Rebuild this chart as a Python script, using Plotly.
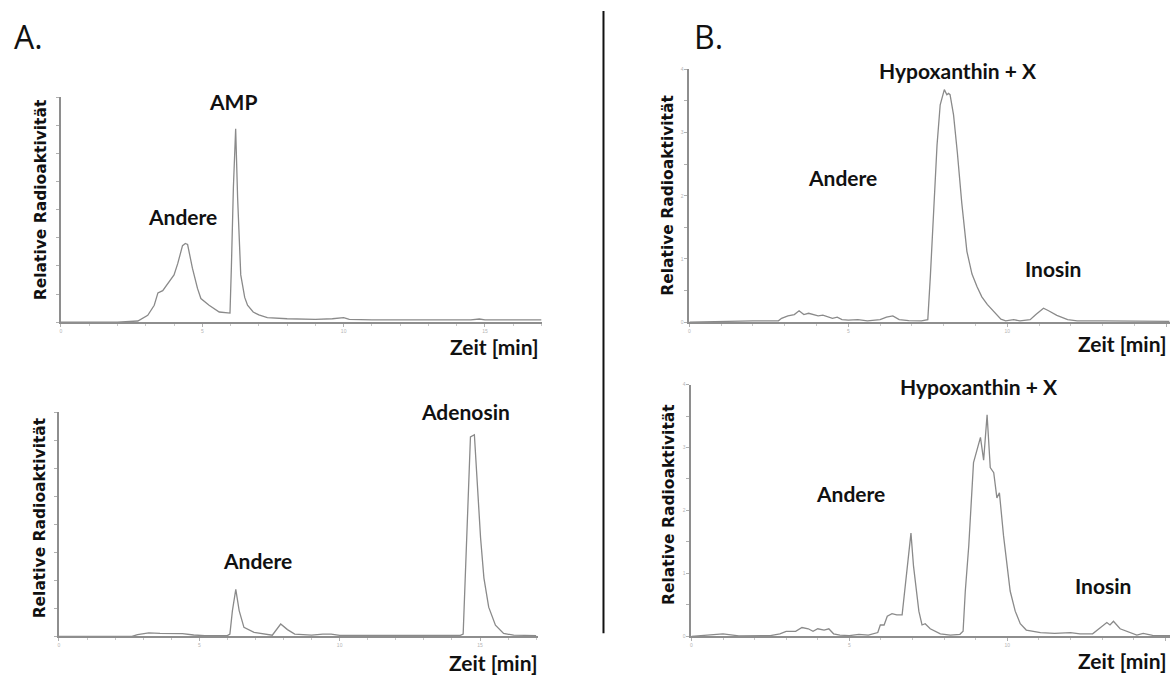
import plotly.graph_objects as go

W, H = 1174, 675

# ---------------- data (time in min, relative radioactivity as fraction of axis height) ----------------
a1_t = [0, 2.0, 2.72, 3.07, 3.3, 3.43, 3.6, 3.78, 4.0, 4.13, 4.3, 4.4, 4.48, 4.65, 4.83, 4.95, 5.24, 5.6, 5.98,
        6.03, 6.1, 6.18, 6.25, 6.36, 6.5, 6.6, 6.8, 7.0, 7.3, 8.0, 9.0, 9.6, 10.0, 10.2, 11.0, 14.5, 14.8, 15.0, 17.0]
a1_v = [0, 0.0, 0.005, 0.03, 0.075, 0.13, 0.14, 0.17, 0.21, 0.26, 0.34, 0.35, 0.345, 0.24, 0.15, 0.105, 0.075, 0.045, 0.04,
        0.25, 0.6, 0.86, 0.55, 0.21, 0.11, 0.075, 0.045, 0.032, 0.02, 0.015, 0.012, 0.015, 0.02, 0.012, 0.01, 0.01, 0.014, 0.01, 0.01]

a2_t = [0, 2.6, 2.8, 3.2, 3.6, 4.0, 4.4, 4.8, 5.2, 6.0, 6.09, 6.18, 6.3, 6.42, 6.59, 6.95, 7.4, 7.6, 7.9, 8.14, 8.4,
        9.0, 9.4, 9.7, 10.0, 14.3, 14.4, 14.48, 14.57, 14.66, 14.8, 14.9, 15.02, 15.14, 15.31, 15.55, 15.84, 16.2, 17.0]
a2_v = [0, 0, 0.008, 0.015, 0.013, 0.014, 0.012, 0.006, 0.003, 0.003, 0.01, 0.115, 0.21, 0.115, 0.04, 0.018, 0.01, 0.005, 0.055, 0.03, 0.01,
        0.005, 0.01, 0.01, 0.004, 0.004, 0.01, 0.29, 0.66, 0.89, 0.9, 0.7, 0.44, 0.26, 0.13, 0.05, 0.013, 0.005, 0.003]

b1_t = [0, 1.0, 2.0, 2.8, 2.9, 3.1, 3.3, 3.45, 3.6, 3.75, 3.9, 4.05, 4.2, 4.35, 4.5, 4.65, 4.8, 5.0, 5.3, 5.6, 6.0, 6.2,
        6.4, 6.6, 6.9, 7.3, 7.5, 7.58, 7.68, 7.79, 7.89, 8.02, 8.1, 8.15, 8.2, 8.31, 8.43, 8.57, 8.73, 8.89, 9.05, 9.2,
        9.37, 9.55, 9.68, 9.8, 9.95, 10.2, 10.4, 10.72, 10.9, 11.14, 11.3, 11.56, 11.9, 12.2, 13.0, 14.0, 15.1]
b1_v = [0, 0.003, 0.005, 0.005, 0.015, 0.025, 0.03, 0.045, 0.03, 0.035, 0.03, 0.025, 0.028, 0.02, 0.015, 0.02, 0.01, 0.008, 0.01, 0.005, 0.01, 0.02,
        0.025, 0.01, 0.006, 0.005, 0.01, 0.18, 0.41, 0.70, 0.86, 0.92, 0.90, 0.905, 0.90, 0.82, 0.67, 0.47, 0.28, 0.19, 0.14, 0.10,
        0.07, 0.045, 0.03, 0.012, 0.005, 0.01, 0.005, 0.01, 0.03, 0.055, 0.045, 0.027, 0.01, 0.005, 0.005, 0.003, 0.003]

b2_t = [0, 0.5, 1.0, 1.5, 2.5, 2.8, 3.0, 3.3, 3.5, 3.7, 3.85, 4.0, 4.2, 4.35, 4.5, 4.7, 5.0, 5.3, 5.6, 5.9, 5.98, 6.1,
        6.2, 6.35, 6.5, 6.67, 6.83, 6.95, 7.03, 7.2, 7.3, 7.4, 7.56, 7.7, 7.88, 8.2, 8.5, 8.6, 8.67, 8.78, 8.93, 9.15,
        9.25, 9.36, 9.46, 9.57, 9.67, 9.75, 9.88, 10.09, 10.25, 10.41, 10.6, 11.05, 11.5, 12.0, 12.3, 12.7, 12.9, 13.15,
        13.25, 13.36, 13.57, 13.89, 14.1, 14.3, 14.6, 15.15]
b2_v = [0, 0.004, 0.01, 0.002, 0.003, 0.01, 0.02, 0.02, 0.035, 0.03, 0.02, 0.03, 0.025, 0.03, 0.01, 0.005, 0.003, 0.008, 0.005, 0.015, 0.045, 0.045,
        0.08, 0.09, 0.085, 0.085, 0.28, 0.41, 0.28, 0.10, 0.045, 0.05, 0.03, 0.02, 0.01, 0.005, 0.008, 0.02, 0.18, 0.36, 0.69, 0.79,
        0.70, 0.88, 0.67, 0.65, 0.55, 0.57, 0.40, 0.18, 0.10, 0.05, 0.025, 0.015, 0.012, 0.015, 0.01, 0.01, 0.03, 0.055,
        0.045, 0.06, 0.03, 0.015, 0.005, 0.012, 0.004, 0.003]

x_tick_vals = [0, 5, 10, 15]
x_tick_text_a = ["0", "5", "10", "15"]
x_tick_text_b = ["0", "5", "10", ""]
y_title = "Relative Radioaktivität"

# ---------------- layout geometry (pixels) ----------------
panels = [
    # (t, v, x0px, x1px, y_top_px, y_bot_px, xmax, xticktext)
    (a1_t, a1_v, 60, 541, 95, 322, 17.0, x_tick_text_a),
    (a2_t, a2_v, 58, 537, 413, 639, 17.05, x_tick_text_a),
    (b1_t, b1_v, 689, 1170, 67, 322, 15.12, x_tick_text_b),
    (b2_t, b2_v, 691, 1170, 385, 639, 15.15, x_tick_text_b),
]

fig = go.Figure()
axis_col = "#8e8e8e"
line_col = "#8a8a8a"

for i, (t, v, x0, x1, yt, yb, xmax, xtt) in enumerate(panels, start=1):
    xa = "x" if i == 1 else f"x{i}"
    ya = "y" if i == 1 else f"y{i}"
    fig.add_trace(go.Scatter(x=t, y=v, mode="lines", line=dict(color=line_col, width=1.3),
                             xaxis=xa, yaxis=ya, showlegend=False, hoverinfo="skip"))
    xkey = "xaxis" if i == 1 else f"xaxis{i}"
    ykey = "yaxis" if i == 1 else f"yaxis{i}"
    fig.layout[xkey] = dict(
        domain=[x0 / W, x1 / W], anchor=ya, range=[0, xmax],
        showgrid=False, zeroline=False, showline=True, linecolor=axis_col, linewidth=2,
        ticks="outside", ticklen=3, tickcolor="#b0b0b0", tickwidth=1,
        tickvals=x_tick_vals, ticktext=xtt,
        tickfont=dict(size=5, color="#b5b5b5", family="Liberation Sans"),
        minor=dict(ticks="outside", ticklen=2, tickcolor="#c8c8c8", dtick=1),
    )
    if i <= 2:
        ytext = [""] * 9
    else:
        ytext = ["0", "", "1", "", "2", "", "3", "", "4"]
    fig.layout[ykey] = dict(
        domain=[1 - yb / H, 1 - yt / H], anchor=xa, range=[0, 1],
        showgrid=False, zeroline=False, showline=True, linecolor=axis_col, linewidth=2,
        ticks="outside", ticklen=3, tickcolor="#b0b0b0", tickwidth=1,
        tickvals=[k / 8 for k in range(9)], ticktext=ytext,
        tickfont=dict(size=5, color="#b5b5b5", family="Liberation Sans"),
    )

# ---------------- annotations ----------------
lab_font = dict(family="Lato", size=21, color="#111111")
ann = []

def add(text, px, py, xanchor="center", font=lab_font, angle=0):
    ann.append(dict(text=text, x=px / W, y=1 - py / H, xref="paper", yref="paper",
                    xanchor=xanchor, yanchor="middle", showarrow=False, font=font, textangle=angle))

add("<b>AMP</b>", 232, 99)
add("<b>Andere</b>", 182, 215)
add("<b>Zeit [min]</b>", 540, 347, xanchor="right")
add("<b>Andere</b>", 257, 562)
add("<b>Adenosin</b>", 465, 412)
add("<b>Zeit [min]</b>", 539, 665, xanchor="right")
add("<b>Hypoxanthin + X</b>", 958, 68)
add("<b>Andere</b>", 842, 176)
add("<b>Inosin</b>", 1053, 268)
add("<b>Zeit [min]</b>", 1169, 344, xanchor="right")
add("<b>Hypoxanthin + X</b>", 979, 387)
add("<b>Andere</b>", 850, 495)
add("<b>Inosin</b>", 1103, 588)
add("<b>Zeit [min]</b>", 1169, 663, xanchor="right")

yt_font = dict(family="DejaVu Sans", size=15.5, color="#111111")
for px, py in [(40, 198), (39, 519), (668, 194), (668, 506)]:
    ann.append(dict(text="<b>" + y_title + "</b>", x=px / W, y=1 - py / H, xref="paper", yref="paper",
                    xanchor="center", yanchor="middle", showarrow=False, font=yt_font, textangle=-90))

big_font = dict(family="Open Sans", size=32, color="#111111")
add("A.", 28, 34, font=big_font)
add("B.", 708, 34, font=big_font)

fig.update_layout(
    width=W, height=H, margin=dict(l=0, r=0, t=0, b=0),
    paper_bgcolor="white", plot_bgcolor="white",
    annotations=ann,
    shapes=[dict(type="line", xref="paper", yref="paper", x0=603 / W, x1=603 / W,
                 y0=1 - 636 / H, y1=1 - 8 / H, line=dict(color="#111111", width=2))],
)

fig.write_html("out.html")
